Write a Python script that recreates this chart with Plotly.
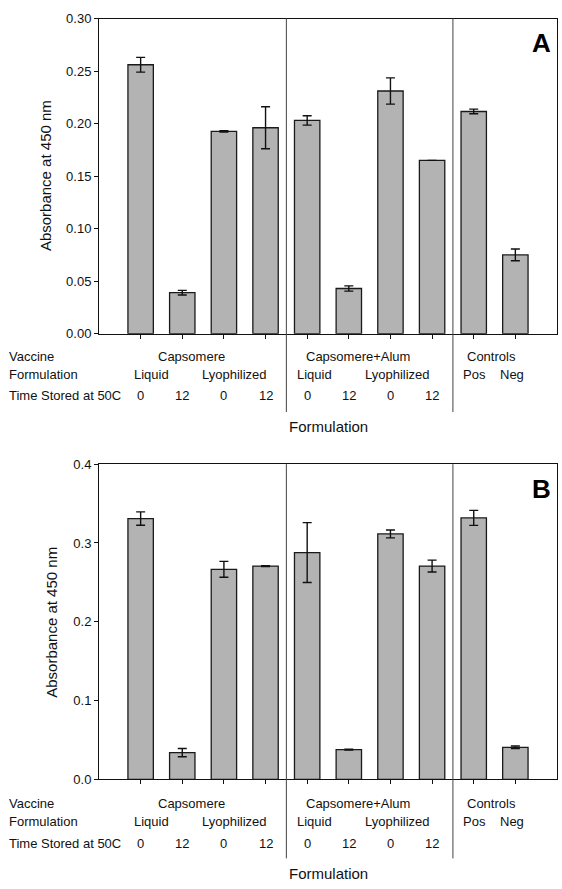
import plotly.graph_objects as go

# ---------------- data ----------------
categories = ["Capsomere Liquid 0", "Capsomere Liquid 12",
              "Capsomere Lyophilized 0", "Capsomere Lyophilized 12",
              "Capsomere+Alum Liquid 0", "Capsomere+Alum Liquid 12",
              "Capsomere+Alum Lyophilized 0", "Capsomere+Alum Lyophilized 12",
              "Controls Pos", "Controls Neg"]
time_labels = ["0", "12", "0", "12", "0", "12", "0", "12", "", ""]

values_A = [0.256, 0.039, 0.1925, 0.196, 0.203, 0.043, 0.231, 0.165, 0.2115, 0.075]
errors_A = [0.007, 0.0022, 0.0006, 0.020, 0.0045, 0.0025, 0.0125, 0.0, 0.0022, 0.0056]

values_B = [0.331, 0.034, 0.2666, 0.2707, 0.2878, 0.0379, 0.3115, 0.2707, 0.3318, 0.0408]
errors_B = [0.0085, 0.0053, 0.010, 0.0006, 0.038, 0.0006, 0.005, 0.0075, 0.0095, 0.0017]

vaccine_groups = ["Capsomere", "Capsomere+Alum", "Controls"]
formulation_groups = ["Liquid", "Lyophilized", "Liquid", "Lyophilized", "Pos", "Neg"]

W, H = 562, 889
FONT = "Liberation Sans, Arial, sans-serif"


def py(px):
    return 1 - px / H


def px_x(px):
    return px / W


fig = go.Figure()

panels = [
    dict(vals=values_A, errs=errors_A, xa="x", ya="y", top=11.7, bot=332.3,
         rng=[0, 0.30], dtick=0.05, fmt=".2f", letter="A",
         rows=[356, 373.3, 395, 427], sep_end=412, ytitle_x=45),
    dict(vals=values_B, errs=errors_B, xa="x2", ya="y2", top=465, bot=785.7,
         rng=[0, 0.4], dtick=0.1, fmt=".1f", letter="B",
         rows=[810, 828, 850.5, 881], sep_end=866, ytitle_x=52),
]

annotations = []
shapes = []
group_x = [1.21, 5.22, 8.43]
form_x = [0.265, 2.26, 4.18, 6.16, 8.02, 8.93]
TXT = 13

for i, p in enumerate(panels):
    fig.add_trace(go.Bar(
        x=categories, y=p["vals"], xaxis=p["xa"], yaxis=p["ya"],
        width=0.61,
        marker=dict(color="#b3b3b3", line=dict(color="#1a1a1a", width=1.3)),
        error_y=dict(type="data", array=p["errs"], visible=True,
                     color="#111111", thickness=1.4, width=4.5),
        showlegend=False, hoverinfo="skip",
    ))
    sfx = "" if i == 0 else "2"
    dom_y = [py(p["bot"]), py(p["top"])]
    fig.update_layout(**{
        "xaxis" + sfx: dict(domain=[px_x(99), px_x(557)], range=[-1, 10],
                            type="category", showticklabels=False,
                            ticks="outside", ticklen=4, tickcolor="#111",
                            tickwidth=1, showline=True, linecolor="#111",
                            linewidth=1, mirror=True, showgrid=False,
                            zeroline=False, anchor="y" + sfx, fixedrange=True),
        "yaxis" + sfx: dict(domain=dom_y, range=p["rng"], dtick=p["dtick"],
                            tick0=0, tickformat=p["fmt"], ticks="outside",
                            ticklen=4, tickcolor="#111", tickwidth=1,
                            showline=True, linecolor="#111", linewidth=1,
                            mirror=True, showgrid=False, zeroline=False,
                            anchor="x" + sfx, fixedrange=True,
                            tickfont=dict(family=FONT, size=TXT, color="#111")),
    })
    r = p["rows"]
    # separators
    for sx in (3.5, 7.5):
        shapes.append(dict(type="line", xref=p["xa"], yref="paper",
                           x0=sx, x1=sx, y0=py(p["sep_end"]), y1=py(p["top"]),
                           line=dict(color="#444", width=1)))
    # row headers
    for txt, ry in zip(["Vaccine", "Formulation", "Time Stored at 50C"], r[:3]):
        annotations.append(dict(text=txt, xref="paper", yref="paper",
                                x=px_x(7), y=py(ry), xanchor="left",
                                yanchor="middle", showarrow=False,
                                font=dict(family=FONT, size=TXT, color="#111")))
    for txt, gx in zip(vaccine_groups, group_x):
        annotations.append(dict(text=txt, xref=p["xa"], yref="paper", x=gx,
                                y=py(r[0]), xanchor="center", yanchor="middle",
                                showarrow=False,
                                font=dict(family=FONT, size=TXT, color="#111")))
    for txt, fx in zip(formulation_groups, form_x):
        annotations.append(dict(text=txt, xref=p["xa"], yref="paper", x=fx,
                                y=py(r[1]), xanchor="center", yanchor="middle",
                                showarrow=False,
                                font=dict(family=FONT, size=TXT, color="#111")))
    for k, t in enumerate(time_labels):
        if t:
            annotations.append(dict(text=t, xref=p["xa"], yref="paper", x=k,
                                    y=py(r[2]), xanchor="center",
                                    yanchor="middle", showarrow=False,
                                    font=dict(family=FONT, size=TXT,
                                              color="#111")))
    # x title
    annotations.append(dict(text="Formulation", xref="paper", yref="paper",
                            x=px_x(329), y=py(r[3]), xanchor="center",
                            yanchor="middle", showarrow=False,
                            font=dict(family=FONT, size=15, color="#111")))
    # y title
    annotations.append(dict(text="Absorbance at 450 nm", xref="paper",
                            yref="paper", x=px_x(p["ytitle_x"]),
                            y=(dom_y[0] + dom_y[1]) / 2, textangle=-90,
                            xanchor="center", yanchor="middle",
                            showarrow=False,
                            font=dict(family=FONT, size=15, color="#111")))
    # panel letter
    annotations.append(dict(text="<b>" + p["letter"] + "</b>", xref="paper",
                            yref="paper", x=px_x(553), y=py(p["top"] + 8),
                            xanchor="right", yanchor="top", showarrow=False,
                            font=dict(family=FONT, size=26, color="#000")))

fig.update_layout(
    width=W, height=H, margin=dict(l=0, r=0, t=0, b=0),
    paper_bgcolor="white", plot_bgcolor="white",
    annotations=annotations, shapes=shapes, bargap=0.4,
    font=dict(family=FONT, color="#111"), hovermode=False,
)

fig.write_html(
    "out.html",
    config={"displayModeBar": False, "staticPlot": True},
    post_script="document.body.style.margin='0';"
                "document.body.style.overflow='hidden';",
)
